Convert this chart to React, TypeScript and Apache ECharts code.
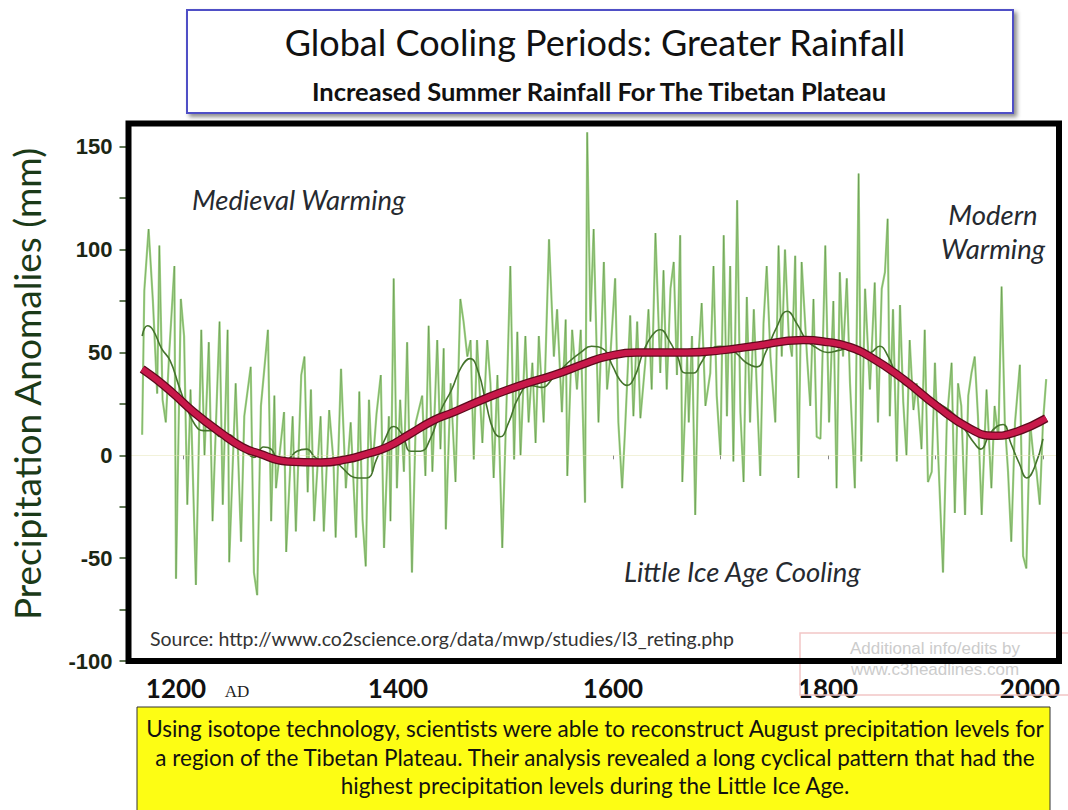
import React, { useEffect, useRef } from "react";
import * as echarts from "echarts";

// ---- Data ----
const noisyYears = [
  1162, 1164, 1168, 1172, 1176, 1178, 1181, 1184, 1187, 1192, 1193.5, 1198, 1201, 1204, 1207, 1212, 1217, 1220, 1224, 1227.5,
  1234, 1237, 1241.5, 1243, 1249, 1254, 1257, 1263, 1266, 1269, 1272.5, 1279, 1282, 1285, 1286.5, 1294, 1296, 1302, 1305, 1310,
  1313, 1316, 1319, 1322, 1328, 1331, 1336, 1340, 1342, 1347, 1351.5, 1356, 1361, 1364, 1367, 1370, 1373, 1376, 1380, 1384,
  1387, 1391.5, 1393, 1396, 1399, 1402, 1405.5, 1408.5, 1413, 1416.5, 1422.5, 1425.5, 1428.5, 1432, 1436.5, 1439.5, 1442.5, 1444.5, 1449, 1453.5,
  1458, 1461, 1464.5, 1467.5, 1470.5, 1473.5, 1478.5, 1483, 1486, 1489, 1492.5, 1497, 1501.5, 1504.5, 1508, 1511, 1514, 1518.5, 1521.5, 1525,
  1528, 1531, 1535.5, 1540.5, 1545, 1548, 1552.5, 1556, 1557.5, 1562, 1566.5, 1570, 1574, 1576, 1579, 1582, 1586.5, 1591.5, 1594.5, 1597.5,
  1602, 1605, 1608.5, 1611, 1616, 1619, 1622.5, 1625.5, 1630, 1633, 1636, 1639.5, 1644, 1647, 1650, 1653.5, 1656.5, 1659.5, 1662.5, 1664.5,
  1669, 1670.5, 1673.5, 1676.5, 1679.5, 1682.5, 1686, 1690.5, 1693.5, 1696.5, 1700, 1703, 1706, 1709, 1712, 1715.5, 1718.5, 1721.5, 1724.5, 1727.5,
  1731, 1734, 1737, 1740, 1743, 1746.5, 1751, 1754, 1757, 1760, 1763.5, 1766.5, 1769.5, 1772.5, 1775.5, 1780.5, 1783.5, 1786.5, 1789.5, 1793,
  1797.5, 1801, 1805, 1808, 1811, 1814, 1817.5, 1820.5, 1825, 1828.5, 1831, 1834.5, 1839, 1843.5, 1846.5, 1850, 1853, 1855.5, 1857.5, 1860.5,
  1864, 1867, 1870, 1873, 1876, 1879.5, 1882.5, 1887, 1890, 1893, 1896.5, 1899.5, 1902.5, 1907, 1910.5, 1915, 1918, 1921, 1924, 1927.5,
  1930.5, 1933.5, 1936.5, 1939.5, 1943, 1947.5, 1952, 1955, 1958.5, 1961.5, 1964.5, 1967.5, 1970.5, 1974, 1978.5, 1981.5, 1984.5, 1988, 1991, 1994,
  1997, 2000, 2003,
];
const noisyValues = [
  10, 80, 110, 75, 30, 102, 27, 16, 48, 92, -60, 76, 58, -24, 32, -63, 61, 0, 55, -32,
  65, -24, 61, -52, 35, -42, 19, 43, -57, -68, 24, 61, -32, 29, -16, 21, -47, 19, -37, 39,
  48, -18, 32, -32, 19, -37, 22, -3, -40, 42, -16, 16, -40, 31, -31, -54, 27, -8, 20, 39,
  -45, 19, -32, 86, -16, 27, -8, 55, -57, 16, 29, -10, 63, -8, 56, 3, 52, -36, 35, -13,
  76, 65, 48, 56, -2, 56, 6, 56, 35, -11, 39, -45, 35, 92, -2, 60, 0, 58, 16, 45,
  6, 58, 16, 105, 48, 71, 21, 66, -10, 61, 32, 61, -23, 157, 65, 110, 16, 94, 32, 48,
  86, 16, -16, 10, 68, 19, 65, 18, 45, 71, 32, 108, 40, 90, 32, 81, 94, 39, 107, -13,
  48, 16, 58, -29, 48, 74, 24, 40, 92, 29, 0, 107, 19, 92, -3, 124, 21, -13, 77, 16,
  71, 29, -10, 64, 92, 48, 16, 102, 48, 100, 58, 48, 97, -11, 94, 48, 24, 76, 9, 8,
  102, 16, 75, -16, 89, 48, 86, 35, -16, 137, -3, 81, 32, 84, 16, 81, 89, 115, 19, 71,
  -3, 73, 26, 0, 56, 22, 35, 3, 61, -13, -8, 45, 0, -57, 16, 45, -28, 35, 24, -29,
  29, 40, 48, 19, -29, 32, -16, 24, 8, 82, 16, -8, -42, 16, 44, -49, -55, 16, 0, -8,
  -24, 16, 37,
];

const decadalYears = [
  1162, 1167, 1172, 1180, 1188, 1196, 1203, 1211, 1219, 1227, 1235, 1243, 1250, 1258, 1266, 1275, 1282, 1290, 1298, 1306,
  1315, 1323, 1332, 1340, 1348, 1356, 1363, 1371, 1380, 1388, 1396, 1404, 1412, 1421, 1430, 1440, 1450, 1459, 1467, 1475,
  1482, 1489, 1495, 1503, 1512, 1523, 1533, 1545, 1558, 1570, 1580, 1590, 1600, 1606, 1613, 1620, 1628, 1636, 1644, 1652,
  1660, 1667, 1675, 1682, 1690, 1700, 1709, 1716, 1724, 1734, 1742, 1752, 1762, 1771, 1780, 1790, 1800, 1810, 1820, 1830,
  1840, 1848, 1856, 1863, 1870, 1880, 1892, 1904, 1917, 1928, 1936, 1942, 1950, 1957, 1963, 1970, 1978, 1985, 1992, 2000,
];
const decadalValues = [
  58, 63, 61, 52, 46, 34, 24, 15, 12, 12, 9, 10, 6, 2, -1, 4, 3, -4, -2, 2,
  3, -1, -3, -3, -6, -10, -11, -11, -2, 8, 14, 10, 2, 2, 8, 22, 32, 43, 47, 40,
  25, 12, 9, 16, 28, 34, 33, 38, 45, 50, 53, 52, 43, 37, 34, 38, 50, 58, 61, 56,
  48, 40, 40, 45, 51, 53, 52, 49, 45, 43, 50, 62, 70, 64, 56, 52, 50, 51, 52, 49,
  50, 53, 48, 40, 35, 32, 29, 25, 20, 12, 6, 3, 10, 14, 15, 6, -4, -11, -6, 8,
];

const trendYears = [
  1162, 1175, 1191, 1210, 1235, 1255, 1270, 1297, 1328, 1352, 1370, 1390, 1410, 1433, 1452, 1483, 1514, 1545, 1576, 1594,
  1622, 1669, 1700, 1730, 1777, 1800, 1818, 1839, 1870, 1901, 1932, 1954, 1973, 2003,
];
const trendValues = [
  42, 37, 30, 21, 11, 4, 1, -3, -3.5, -2, 0.5, 4, 10, 17, 21, 28, 34, 39, 45, 48,
  50, 50, 51, 53, 56, 55, 53, 48, 37, 24, 13, 9.5, 11, 18,
];

const xLabelValues = [1200, 1400, 1600, 1800, 2000];
const xTickValues = [1200, 1300, 1400, 1500, 1600, 1700, 1800, 1900, 2000];
const yLabelValues = [-100, -50, 0, 50, 100, 150];
const yTickValues = [-100, -75, -50, -25, 0, 25, 50, 75, 100, 125, 150];

const zip = (xs: number[], ys: number[]) => xs.map((x, i) => [x, ys[i]]);

const CAL = "Lato, 'Open Sans', sans-serif";

export default function App() {
  const ref = useRef<HTMLDivElement>(null);

  useEffect(() => {
    if (!ref.current) return;
    const chart = echarts.init(ref.current, null, { renderer: "svg" });
    const noisy = zip(noisyYears, noisyValues);
    const decadal = zip(decadalYears, decadalValues);
    const trend = zip(trendYears, trendValues);

    const txt = (text: string, x: number, y: number, font: string, fill: string, align = "left", extra: any = {}) => ({
      type: "text",
      z: 50,
      ...extra,
      style: {
        text,
        x,
        y,
        font,
        fill,
        textAlign: align,
        align,
        textVerticalAlign: "middle",
        verticalAlign: "middle",
        ...(extra.style || {}),
      },
    });

    const xLab = { fontFamily: CAL, fontWeight: "bold", fontSize: 26, color: "#111111" };

    chart.setOption({
      animation: false,
      backgroundColor: "#ffffff",
      grid: {
        left: 128.5,
        top: 123.5,
        width: 930.5,
        height: 537.5,
        show: true,
        outerBoundsMode: "none",
        containLabel: false,
        borderColor: "#000000",
        borderWidth: 6,
        backgroundColor: "transparent",
        z: 10,
      },
      xAxis: {
        type: "value",
        min: 1149.3,
        max: 2014.9,
        axisLine: { show: false },
        splitLine: { show: false },
        axisTick: {
          show: true,
          customValues: xTickValues,
          length: 4,
          lineStyle: { color: "#888888", width: 1 },
        },
        axisLabel: {
          show: true,
          customValues: xLabelValues,
          formatter: (v: number) =>
            v === 2000 ? "{e|2000}" : v === 1200 ? "{s|1200}" : "{n|" + String(v) + "}",
          margin: 14,
          ...xLab,
          rich: {
            n: { ...xLab },
            s: { ...xLab, padding: [0, 14, 0, 0] },
            e: { ...xLab, padding: [0, 26, 0, 0] },
          },
        },
      },
      yAxis: {
        type: "value",
        min: -100,
        max: 161.3,
        axisLine: { show: false },
        splitLine: { show: false },
        axisTick: {
          show: true,
          customValues: yTickValues,
          length: 9,
          lineStyle: { color: "#2c4a1c", width: 1.5 },
        },
        axisLabel: {
          show: true,
          customValues: yLabelValues,
          formatter: (v: number) => String(v),
          margin: 16,
          color: "#1c2614",
          fontFamily: "'Liberation Sans Narrow', 'Arial Narrow', 'Liberation Sans', sans-serif",
          fontWeight: "bold",
          fontSize: 22,
        },
      },
      series: [
        {
          type: "line",
          data: noisy,
          symbol: "none",
          z: 2,
          lineStyle: { color: "#a4d789", width: 2.2 },
          markLine: {
            silent: true,
            symbol: "none",
            label: { show: false },
            lineStyle: { color: "#e4e4b4", type: "dotted", width: 1 },
            data: [{ yAxis: 0 }],
          },
        },
        {
          type: "line",
          data: noisy,
          symbol: "none",
          z: 3,
          lineStyle: { color: "#24501a", width: 0.6, opacity: 0.45 },
        },
        {
          type: "line",
          data: decadal,
          symbol: "none",
          smooth: 0.5,
          z: 4,
          lineStyle: { color: "#44732c", width: 1.6 },
        },
        {
          type: "line",
          data: trend,
          symbol: "none",
          smooth: 0.5,
          z: 5,
          lineStyle: { color: "#5c0a1c", width: 8.5 },
        },
        {
          type: "line",
          data: trend,
          symbol: "none",
          smooth: 0.5,
          z: 6,
          lineStyle: { color: "#c8184a", width: 6 },
        },
      ],
      graphic: [
        // title box
        {
          type: "rect",
          z: 40,
          shape: { x: 187, y: 10, width: 826, height: 103 },
          style: {
            fill: "#ffffff",
            stroke: "#4f4fc6",
            lineWidth: 2,
            shadowBlur: 4,
            shadowOffsetX: 3,
            shadowOffsetY: 3,
            shadowColor: "rgba(0,0,0,0.45)",
          },
        },
        txt("Global Cooling Periods: Greater Rainfall", 595, 42, `normal 36px ${CAL}`, "#111111", "center"),
        txt("Increased Summer Rainfall For The Tibetan Plateau", 599, 91, `bold 25.5px ${CAL}`, "#111111", "center"),
        // y axis title
        {
          type: "text",
          z: 50,
          x: 26,
          y: 384,
          rotation: Math.PI / 2,
          style: {
            text: "Precipitation Anomalies (mm)",
            x: 0,
            y: 0,
            font: `normal 37px ${CAL}`,
            fill: "#1b3a18",
            textAlign: "center",
            align: "center",
            textVerticalAlign: "middle",
            verticalAlign: "middle",
          },
        },
        // annotations
        txt("Medieval Warming", 192, 199, `italic 27.5px ${CAL}`, "#262a30"),
        txt("Modern", 993, 214, `italic 27.5px ${CAL}`, "#262a30", "center"),
        txt("Warming", 993, 248, `italic 27.5px ${CAL}`, "#262a30", "center"),
        txt("Little Ice Age Cooling", 624, 571, `italic 27.5px ${CAL}`, "#262a30"),
        txt("Source: http://www.co2science.org/data/mwp/studies/l3_reting.php", 150, 638, `normal 19.5px ${CAL}`, "#333333"),
        txt("AD", 237, 691, "normal 17px 'Liberation Serif', 'DejaVu Serif', serif", "#222222", "center"),
        // watermark
        {
          type: "rect",
          z: 1,
          shape: { x: 800, y: 633, width: 290, height: 62 },
          style: { fill: "none", stroke: "#f2c6c6", lineWidth: 1.5 },
        },
        txt("Additional info/edits by", 935, 648, "normal 17px 'Liberation Sans', sans-serif", "#cccccc", "center", { z: 2 }),
        txt("www.c3headlines.com", 935, 669, "normal 17px 'Liberation Sans', sans-serif", "#cccccc", "center", { z: 2 }),
        // yellow box
        {
          type: "rect",
          z: 40,
          shape: { x: 137, y: 707, width: 913, height: 110 },
          style: { fill: "#fdfd14", stroke: "#333333", lineWidth: 1 },
        },
        txt(
          "Using isotope technology, scientists were able to reconstruct August precipitation levels for\na region of the Tibetan Plateau. Their analysis revealed a long cyclical pattern that had the\nhighest precipitation levels during the Little Ice Age.",
          595,
          757,
          `normal 22.5px ${CAL}`,
          "#111111",
          "center",
          { style: { lineHeight: 28.5 } }
        ),
      ],
    });
    return () => chart.dispose();
  }, []);

  return (
    <div
      ref={ref}
      style={{ position: "absolute", left: 0, top: 0, width: 1068, height: 810, background: "#fff" }}
    />
  );
}
